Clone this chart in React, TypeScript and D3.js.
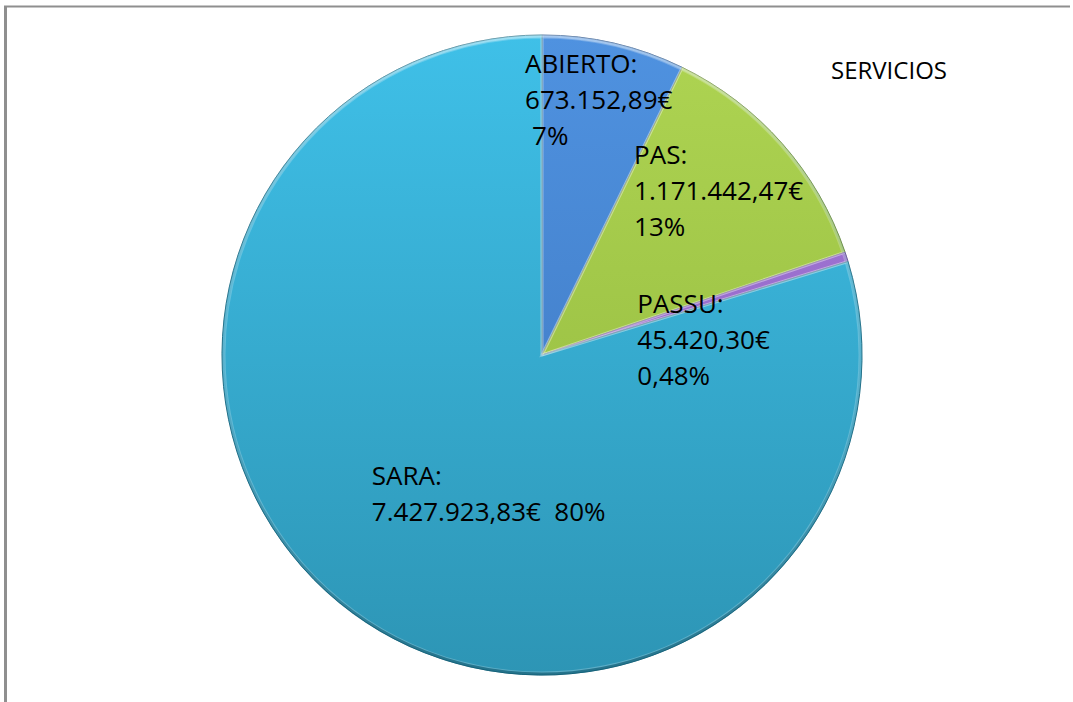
import * as d3 from "d3";
import { useEffect, useRef } from "react";

const categories = ["ABIERTO", "PAS", "PASSU", "SARA"];
const amounts = [673152.89, 1171442.47, 45420.3, 7427923.83];
const amountLabels = ["673.152,89€", "1.171.442,47€", "45.420,30€", "7.427.923,83€"];
const percentLabels = ["7%", "13%", "0,48%", "80%"];
const title = "SERVICIOS";

// colours per slice: top / bottom of gradient
const topColors = ["#4f92e0", "#aed452", "#a57ad8", "#3fc0e8"];
const bottomColors = ["#3c74bc", "#90b63c", "#8a5fc0", "#2d95b5"];

export default function App() {
  const svgRef = useRef<SVGSVGElement>(null);
  const width = 1073;
  const height = 702;

  useEffect(() => {
    const svg = d3.select(svgRef.current);
    svg.selectAll("*").remove();
    const cx = 542;
    const cy = 355;
    const r = 320;

    const defs = svg.append("defs");
    categories.forEach((c, i) => {
      const g = defs
        .append("linearGradient")
        .attr("id", `grad-${i}`)
        .attr("gradientUnits", "userSpaceOnUse")
        .attr("x1", 0)
        .attr("y1", -r)
        .attr("x2", 0)
        .attr("y2", r);
      g.append("stop").attr("offset", "0%").attr("stop-color", topColors[i]);
      g.append("stop").attr("offset", "100%").attr("stop-color", bottomColors[i]);
    });
    const rim = defs
      .append("linearGradient")
      .attr("id", "rim")
      .attr("gradientUnits", "userSpaceOnUse")
      .attr("x1", 0)
      .attr("y1", -r)
      .attr("x2", 0)
      .attr("y2", r);
    rim.append("stop").attr("offset", "0%").attr("stop-color", "#ffffff").attr("stop-opacity", 0.35);
    rim.append("stop").attr("offset", "55%").attr("stop-color", "#1a6e8a").attr("stop-opacity", 0.15);
    rim.append("stop").attr("offset", "100%").attr("stop-color", "#0d5a72").attr("stop-opacity", 0.7);

    // frame
    svg.append("line").attr("x1", 5.5).attr("x2", 5.5).attr("y1", 6).attr("y2", height)
      .attr("stroke", "#8f8f8f").attr("stroke-width", 3);
    svg.append("line").attr("x1", 4).attr("x2", 1070).attr("y1", 6.5).attr("y2", 6.5)
      .attr("stroke", "#8f8f8f").attr("stroke-width", 2);

    const pie = d3.pie<number>().sort(null).value((d) => d);
    const arcs = pie(amounts);
    const arc = d3.arc<d3.PieArcDatum<number>>().innerRadius(0).outerRadius(r);
    const bevel = d3.arc<d3.PieArcDatum<number>>().innerRadius(0).outerRadius(r - 2);

    const g = svg.append("g").attr("transform", `translate(${cx},${cy})`);
    g.selectAll("path.slice")
      .data(arcs)
      .join("path")
      .attr("class", "slice")
      .attr("d", arc)
      .attr("fill", (_, i) => `url(#grad-${i})`)
      .attr("stroke", (_, i) => d3.color(bottomColors[i])!.darker(0.8).formatHex())
      .attr("stroke-width", 1);

    // inner bevel highlight
    g.selectAll("path.bevel")
      .data(arcs)
      .join("path")
      .attr("class", "bevel")
      .attr("d", bevel)
      .attr("fill", "none")
      .attr("stroke", "#ffffff")
      .attr("stroke-opacity", 0.22)
      .attr("stroke-width", 3);

    g.append("circle").attr("r", r - 1).attr("fill", "none")
      .attr("stroke", "url(#rim)").attr("stroke-width", 3);

    // labels, placed from slice centroids with offsets
    const offsets: [number, number][] = [
      [-53, -126],
      [-28, -85],
      [-57, 7],
      [-75, 1],
    ];
    const lineH = 36;
    const font = "'Open Sans', 'Liberation Sans', sans-serif";
    arcs.forEach((a, i) => {
      const [mx, my] = arc.centroid(a);
      const x = mx + offsets[i][0];
      const y = my + offsets[i][1];
      const t = g.append("text")
        .attr("x", x)
        .attr("y", y)
        .attr("font-family", font)
        .attr("font-size", 26)
        .attr("fill", "#000");
      t.append("tspan").attr("x", x).attr("y", y).text(`${categories[i]}:`);
      if (i === 3) {
        t.append("tspan").attr("x", x).attr("y", y + lineH)
          .attr("xml:space", "preserve").style("white-space", "pre")
          .text(`${amountLabels[i]}  ${percentLabels[i]}`);
      } else {
        t.append("tspan").attr("x", x).attr("y", y + lineH).text(amountLabels[i]);
        t.append("tspan").attr("x", i === 0 ? x + 7 : x).attr("y", y + lineH * 2).text(percentLabels[i]);
      }
    });

    svg.append("text")
      .attr("x", 831)
      .attr("y", 79)
      .attr("font-family", font)
      .attr("font-size", 24)
      .attr("fill", "#000")
      .text(title);
  }, []);

  return (
    <div style={{ position: "absolute", left: 0, top: 0, width, height, background: "#fff" }}>
      <svg ref={svgRef} width={width} height={height} />
    </div>
  );
}
